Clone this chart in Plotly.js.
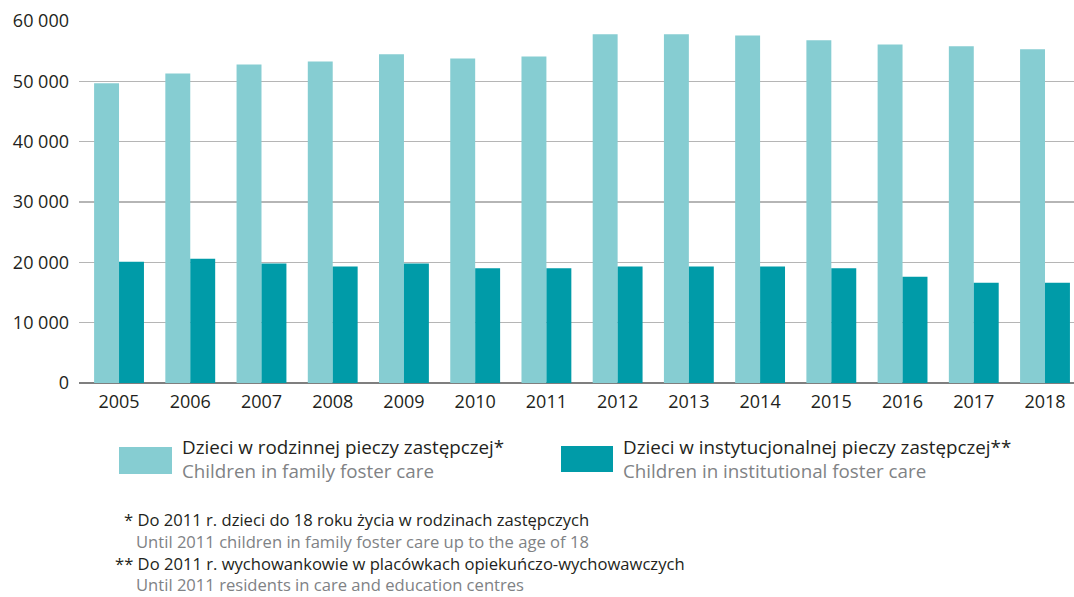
<!DOCTYPE html>
<html>
<head>
<meta charset="utf-8">
<script src="https://cdn.plot.ly/plotly-3.0.1.min.js"></script>
<style>
  html, body { margin: 0; padding: 0; background: #fff; }
  #chart { width: 1074px; height: 597px; }
</style>
</head>
<body>
<div id="chart"></div>
<script>
// ---- Data ----
const years = ["2005","2006","2007","2008","2009","2010","2011","2012","2013","2014","2015","2016","2017","2018"];
const familyCare = [49700, 51300, 52800, 53300, 54500, 53800, 54100, 57800, 57800, 57600, 56800, 56100, 55800, 55300];
const institutionalCare = [20100, 20600, 19800, 19300, 19800, 19000, 19000, 19300, 19300, 19300, 19000, 17600, 16600, 16600];
const yTicks = [0, 10000, 20000, 30000, 40000, 50000, 60000];

const seriesNamesPL = ["Dzieci w rodzinnej pieczy zastępczej*", "Dzieci w instytucjonalnej pieczy zastępczej**"];
const seriesNamesEN = ["Children in family foster care", "Children in institutional foster care"];
const footnotes = [
  "* Do 2011 r. dzieci do 18 roku życia w rodzinach zastępczych",
  "Until 2011 children in family foster care up to the age of 18",
  "** Do 2011 r. wychowankowie w placówkach opiekuńczo-wychowawczych",
  "Until 2011 residents in care and education centres"
];

// ---- Style ----
const LIGHT = "#86cdd2";
const DARK = "#009ba8";
const TXT = "#231f20";
const GRAY = "#808285";
const FONT = "Open Sans, Noto Sans, sans-serif";

// plot area in pixels
const L = 79, R = 1074, T = 20.7, B = 383;
const px = x => (x - L) / (R - L);
const py = y => (B - y) / (B - T);

const traces = [
  { type: "bar", x: years, y: familyCare, name: seriesNamesPL[0], marker: { color: LIGHT }, hoverinfo: "x+y" },
  { type: "bar", x: years, y: institutionalCare, name: seriesNamesPL[1], marker: { color: DARK }, hoverinfo: "x+y" }
];

const shapes = [
  { type: "rect", xref: "paper", yref: "paper", x0: px(119), x1: px(172), y0: py(447), y1: py(474), fillcolor: LIGHT, line: { width: 0 } },
  { type: "rect", xref: "paper", yref: "paper", x0: px(561), x1: px(613), y0: py(446), y1: py(472), fillcolor: DARK, line: { width: 0 } }
];

function ann(text, x, y, size, color) {
  return { xref: "paper", yref: "paper", x: px(x), y: py(y), xanchor: "left", yanchor: "middle",
           borderpad: 0, text: text, showarrow: false, font: { family: FONT, size: size, color: color } };
}

const annotations = [
  ann(seriesNamesPL[0], 181, 447, 18.8, TXT),
  ann(seriesNamesEN[0], 181, 471, 18.8, GRAY),
  ann(seriesNamesPL[1], 622, 447, 18.8, TXT),
  ann(seriesNamesEN[1], 622, 471, 18.8, GRAY),
  ann(footnotes[0], 123, 520, 16.6, TXT),
  ann(footnotes[1], 135, 542, 16.6, GRAY),
  ann(footnotes[2], 114, 564, 16.6, TXT),
  ann(footnotes[3], 135, 585, 16.6, GRAY)
];

const layout = {
  width: 1074, height: 597,
  margin: { l: L, r: 1074 - R, t: T, b: 597 - B, pad: 0 },
  paper_bgcolor: "#fff", plot_bgcolor: "#fff",
  separators: ", ",
  barmode: "group", bargap: 0.3, bargroupgap: 0,
  showlegend: false,
  font: { family: FONT, color: TXT },
  xaxis: {
    type: "category", range: [-0.562, 13.407],
    showgrid: false, showline: false, zeroline: false,
    ticks: "", ticklabelstandoff: 6,
    tickfont: { family: FONT, size: 18, color: TXT }
  },
  yaxis: {
    range: [0, 60000], tickvals: yTicks, tickformat: ",d",
    showgrid: true, gridcolor: "#b5b5b5", gridwidth: 1.5,
    zeroline: true, zerolinecolor: "#7f7f7f", zerolinewidth: 1.5,
    showline: false, ticks: "", ticklabelstandoff: 9,
    tickfont: { family: FONT, size: 18, color: TXT }
  },
  shapes: shapes,
  annotations: annotations
};

Plotly.newPlot("chart", traces, layout, { displayModeBar: false, staticPlot: true });
</script>
</body>
</html>
